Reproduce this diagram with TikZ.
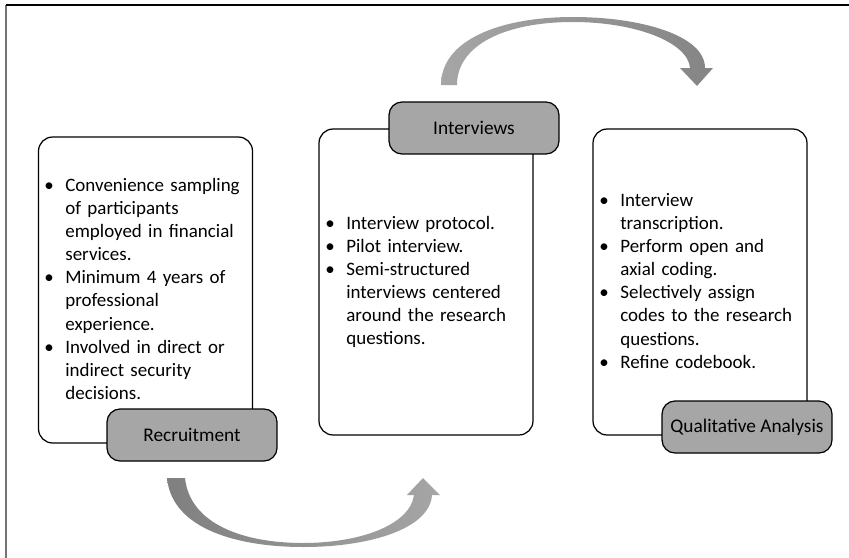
\documentclass[tikz,border=0pt]{standalone}
\usepackage{fontspec}
\setmainfont{Carlito}
\usepackage{tikz}
\usetikzlibrary{positioning}
\newcommand{\bul}[1]{\hangindent=0.42cm\hangafter=1\noindent\makebox[0.42cm][l]{\textbullet}{\let\\\newline#1}\par}
\begin{document}
\begin{tikzpicture}[x=0.02cm,y=-0.02cm,
    panel/.style={draw,fill=white,rounded corners=0.28cm,minimum width=4.28cm,minimum height=6.12cm,line width=0.7pt},
    pill/.style={draw,fill=black!35,rounded corners=0.26cm,minimum width=3.4cm,minimum height=1.04cm,line width=0.7pt,font=\fontsize{11}{13}\selectfont},
    blist/.style={anchor=base west,text width=4.3cm,inner sep=0pt,font=\fontsize{10.8}{13.2}\selectfont\raggedright}]
                \useasboundingbox (0,0) rectangle (849,558);
                \draw [black!55,line width=1.2pt](6,558)--(6,5);
                \draw [line width=1pt](6,5)--(849,5);
                \shade [left color=black!35,middle color=black!18,right color=black!48]
                    (441,85) .. controls (441,40) and (500,17) .. (573,17)
                    .. controls (640,17) and (705,35) .. (705,68)
                    -- (713,68) -- (697,86) -- (680,68) -- (690,68)
                    .. controls (688,42) and (635,22) .. (573,22)
                    .. controls (505,22) and (457,45) .. (457,85) -- cycle;
                \shade [left color=black!50,middle color=black!18,right color=black!35]
                    (167,478) .. controls (172,530) and (240,547) .. (303,547)
                    .. controls (372,547) and (430,528) .. (432,495)
                    -- (440,495) -- (423,478) -- (407,495) -- (414,495)
                    .. controls (410,525) and (360,543) .. (303,543)
                    .. controls (245,543) and (190,525) .. (185,478) -- cycle;
                \node [panel] (recruitBox) at (145.5,290) {};
                \node [panel] (interviewBox) at (426,282) {};
                \node [panel] (analysisBox) at (700,282) {};
                \node [pill] (recruit) at (192,435) {Recruitment};
                \node [pill] (interview) at (474,128) {Interviews};
                \node [pill] (analysis) at (747,427) {Qualitative Analysis};
                \node [blist] (recruitList) at (44,191) {%
                    \bul{Convenience sampling\\ of participants\\ employed in financial\\ services.}%
                    \bul{Minimum 4 years of\\ professional\\ experience.}%
                    \bul{Involved in direct or\\ indirect security\\ decisions.}};
                \node [blist] (interviewList) at (325,229) {%
                    \bul{Interview protocol.}%
                    \bul{Pilot interview.}%
                    \bul{Semi-structured\\ interviews centered\\ around the research\\ questions.}};
                \node [blist] (analysisList) at (599,206) {%
                    \bul{Interview\\ transcription.}%
                    \bul{Perform open and\\ axial coding.}%
                    \bul{Selectively assign\\ codes to the research\\ questions.}%
                    \bul{Refine codebook.}};
            \end{tikzpicture}
\end{document}
